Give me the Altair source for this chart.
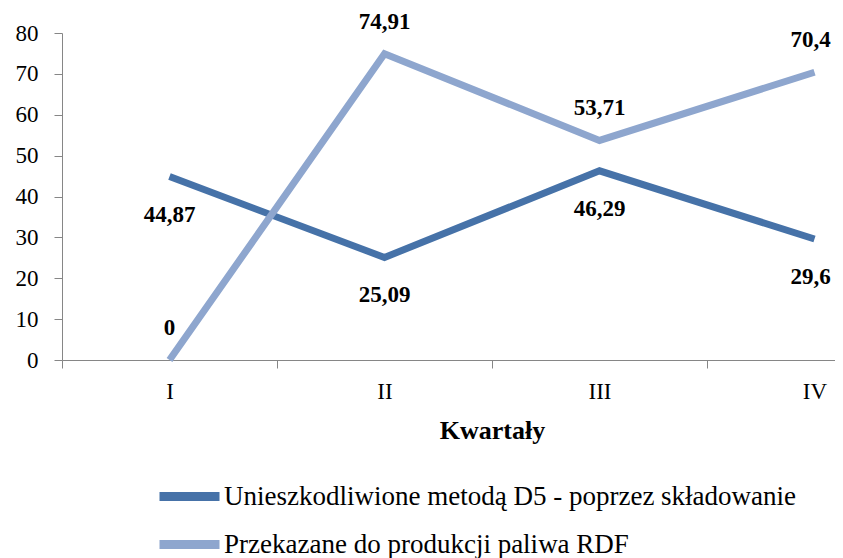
import altair as alt
import pandas as pd

quarters = ["I", "II", "III", "IV"]
series_names = [
    "Unieszkodliwione metodą D5 - poprzez składowanie",
    "Przekazane do produkcji paliwa RDF",
]
d5_values = [44.87, 25.09, 46.29, 29.6]
rdf_values = [0, 74.91, 53.71, 70.4]
colors = ["#4672A8", "#8EA6CE"]

df_d5 = pd.DataFrame({"q": quarters, "v": d5_values, "s": series_names[0]})
df_rdf = pd.DataFrame({"q": quarters, "v": rdf_values, "s": series_names[1]})

FONT = "Liberation Serif"

x = alt.X(
    "q:N",
    sort=quarters,
    scale=alt.Scale(type="band", paddingInner=0, paddingOuter=0),
    axis=alt.Axis(
        title="Kwartały",
        labelAngle=0,
        tickBand="extent",
        tickSize=8,
        labelPadding=12,
        labelFontSize=23,
        titleFontSize=26,
        titleFontWeight="bold",
        titlePadding=14,
        domainColor="#868686",
        tickColor="#868686",
        labelColor="black",
        titleColor="black",
        grid=False,
    ),
)
y = alt.Y(
    "v:Q",
    scale=alt.Scale(domain=[0, 80], nice=False),
    axis=alt.Axis(
        title=None,
        values=[0, 10, 20, 30, 40, 50, 60, 70, 80],
        tickSize=8,
        labelPadding=16,
        labelFontSize=23,
        domainColor="#868686",
        tickColor="#868686",
        labelColor="black",
        grid=False,
    ),
)


def leg(ypos):
    return alt.Legend(
        title=None,
        orient="none",
        legendX=93,
        legendY=ypos,
        symbolType="stroke",
        symbolSize=3600,
        symbolStrokeWidth=9,
        labelFontSize=27,
        labelColor="black",
        labelOffset=0,
        labelLimit=800,
    )


line_d5 = alt.Chart(df_d5).mark_line(strokeWidth=7).encode(
    x=x,
    y=y,
    color=alt.Color(
        "s:N", scale=alt.Scale(domain=[series_names[0]], range=[colors[0]]), legend=leg(429)
    ),
)
line_rdf = alt.Chart(df_rdf).mark_line(strokeWidth=7).encode(
    x=x,
    y=y,
    stroke=alt.Stroke(
        "s:N", scale=alt.Scale(domain=[series_names[1]], range=[colors[1]]), legend=leg(477)
    ),
)

lab_expr = "replace(toString(datum.v), '.', ',')"


def labels(data, dy):
    base = alt.Chart(data).transform_calculate(lab=lab_expr)
    main = (
        base.transform_filter(alt.datum.q != "IV")
        .mark_text(font=FONT, fontSize=23, fontWeight="bold", dy=dy, color="black")
        .encode(x=x, y=y, text="lab:N")
    )
    last = (
        base.transform_filter(alt.datum.q == "IV")
        .mark_text(font=FONT, fontSize=23, fontWeight="bold", dy=dy, dx=-4, color="black")
        .encode(x=x, y=y, text="lab:N")
    )
    return main + last


chart = (
    alt.layer(line_d5, line_rdf, labels(df_d5, 38), labels(df_rdf, -32))
    .properties(
        width=860,
        height=327,
        autosize=alt.AutoSizeParams(type="none"),
        padding={"left": 54, "top": 25, "right": -87, "bottom": 198},
    )
    .configure(font=FONT, background="white")
    .configure_view(stroke=None)
)

chart.save("out.html", embed_options={"renderer": "svg", "actions": False})
